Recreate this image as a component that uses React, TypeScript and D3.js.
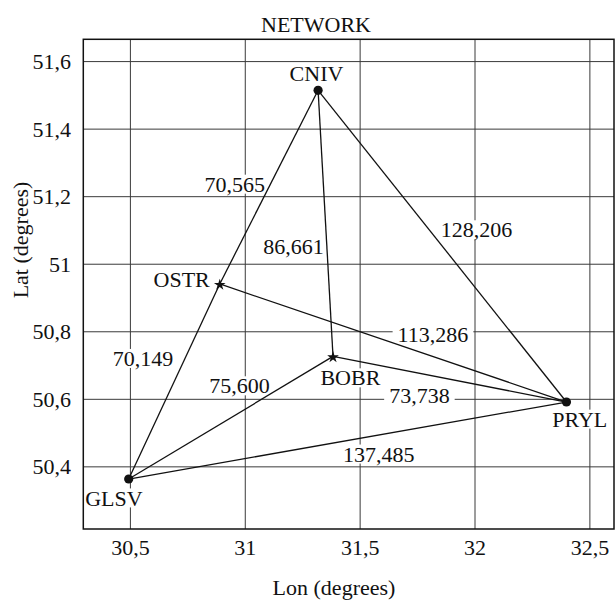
import React, { useEffect, useRef } from "react";
import * as d3 from "d3";

// Stations
const stationNames = ["GLSV", "CNIV", "PRYL", "OSTR", "BOBR"];
const stationLon = [30.4926, 31.317, 32.398, 30.889, 31.382];
const stationLat = [50.364, 51.515, 50.592, 50.9415, 50.727];
const stationKind = ["dot", "dot", "dot", "star", "star"];

// Baselines (edges) and their lengths
const edgeFrom = ["CNIV", "CNIV", "CNIV", "OSTR", "OSTR", "GLSV", "BOBR", "GLSV"];
const edgeTo = ["OSTR", "BOBR", "PRYL", "GLSV", "PRYL", "BOBR", "PRYL", "PRYL"];
const edgeLength = ["70,565", "86,661", "128,206", "70,149", "113,286", "75,600", "73,738", "137,485"];
const edgeLabelLon = [30.954, 31.21, 32.006, 30.555, 31.817, 30.975, 31.758, 31.581];
const edgeLabelLat = [51.237, 51.054, 51.102, 50.721, 50.791, 50.64, 50.612, 50.438];

// Axes
const lonTicks = [30.5, 31, 31.5, 32, 32.5];
const latTicks = [50.4, 50.6, 50.8, 51, 51.2, 51.4, 51.6];
const lonDomain = [30.295, 32.605];
const latDomain = [50.216, 51.666];

const titleText = "NETWORK";
const xLabelText = "Lon (degrees)";
const yLabelText = "Lat (degrees)";

// Label placement of station names (pixel offsets from marker, anchor)
const nameOffset: Record<string, { dx: number; dy: number; anchor: string }> = {
  CNIV: { dx: -1.6, dy: -9, anchor: "middle" },
  OSTR: { dx: -10, dy: 2.7, anchor: "end" },
  BOBR: { dx: -12.6, dy: 29, anchor: "start" },
  GLSV: { dx: -14.8, dy: 26.5, anchor: "middle" },
  PRYL: { dx: 13.3, dy: 24.7, anchor: "middle" },
};

const FONT = "'Liberation Serif', 'DejaVu Serif', 'Times New Roman', serif";
const FS = 22;

export default function App() {
  const ref = useRef<SVGSVGElement>(null);

  useEffect(() => {
    const svg = d3.select(ref.current);
    svg.selectAll("*").remove();

    const left = 83.3, right = 614, top = 39.3, bottom = 529;
    const x = d3.scaleLinear().domain(lonDomain).range([left, right]);
    const y = d3.scaleLinear().domain(latDomain).range([bottom, top]);
    const loc = d3.formatLocale({ decimal: ",", thousands: ".", grouping: [3], currency: ["", ""] });
    const fmt = loc.format("~g");

    svg.append("rect").attr("width", 615).attr("height", 601).attr("fill", "#fff");

    // grid
    const grid = svg.append("g").attr("stroke", "#3a3a3a").attr("stroke-width", 1);
    lonTicks.forEach((t) => {
      grid.append("line").attr("x1", x(t)).attr("x2", x(t)).attr("y1", top).attr("y2", bottom);
    });
    latTicks.forEach((t) => {
      grid.append("line").attr("x1", left).attr("x2", right).attr("y1", y(t)).attr("y2", y(t));
    });

    const boxLayer = svg.append("g");
    const edgeLayer = svg.append("g");
    const markLayer = svg.append("g");
    const textLayer = svg.append("g").style("font-family", FONT).style("font-size", FS + "px").attr("fill", "#111");

    // border
    svg.insert("rect", () => edgeLayer.node())
      .attr("x", left).attr("y", top).attr("width", right - left).attr("height", bottom - top)
      .attr("fill", "none").attr("stroke", "#111").attr("stroke-width", 1.5);

    const idx = (n: string) => stationNames.indexOf(n);

    edgeFrom.forEach((f, i) => {
      const a = idx(f), b = idx(edgeTo[i]);
      edgeLayer.append("line")
        .attr("x1", x(stationLon[a])).attr("y1", y(stationLat[a]))
        .attr("x2", x(stationLon[b])).attr("y2", y(stationLat[b]))
        .attr("stroke", "#111").attr("stroke-width", 1.3);
    });

    const addBoxedText = (tx: number, ty: number, s: string, anchor: string) => {
      const t = textLayer.append("text").attr("x", tx).attr("y", ty).attr("text-anchor", anchor).text(s);
      const bb = (t.node() as SVGTextElement).getBBox();
      const cy = ty - 7.6;
      boxLayer.append("rect")
        .attr("x", bb.x - 5).attr("y", cy - 9.5).attr("width", bb.width + 10).attr("height", 19)
        .attr("fill", "#fff");
    };

    edgeLength.forEach((s, i) => {
      addBoxedText(x(edgeLabelLon[i]), y(edgeLabelLat[i]) + 7.6, s, "middle");
    });

    stationNames.forEach((n, i) => {
      const px = x(stationLon[i]), py = y(stationLat[i]);
      if (stationKind[i] === "dot") {
        markLayer.append("circle").attr("cx", px).attr("cy", py).attr("r", 4.6).attr("fill", "#111");
      } else {
        markLayer.append("path")
          .attr("d", d3.symbol().type(d3.symbolStar).size(42)())
          .attr("transform", `translate(${px},${py + 0.8})`).attr("fill", "#111");
      }
      const o = nameOffset[n];
      addBoxedText(px + o.dx, py + o.dy, n, o.anchor);
    });

    // axis tick labels
    const axisText = svg.append("g").style("font-family", FONT).style("font-size", FS + "px").attr("fill", "#111");
    lonTicks.forEach((t) => {
      axisText.append("text").attr("x", x(t)).attr("y", 555).attr("text-anchor", "middle").text(fmt(t));
    });
    latTicks.forEach((t) => {
      axisText.append("text").attr("x", 71).attr("y", y(t) + 7.6).attr("text-anchor", "end").text(fmt(t));
    });

    axisText.append("text").attr("x", 316).attr("y", 31.5).attr("text-anchor", "middle").text(titleText);
    axisText.append("text").attr("x", 334).attr("y", 595).attr("text-anchor", "middle").text(xLabelText);
    axisText.append("text")
      .attr("transform", `translate(28,240) rotate(-90)`)
      .attr("text-anchor", "middle").text(yLabelText);
  }, []);

  return (
    <svg ref={ref} width={615} height={601} style={{ position: "absolute", left: 0, top: 0 }} />
  );
}
